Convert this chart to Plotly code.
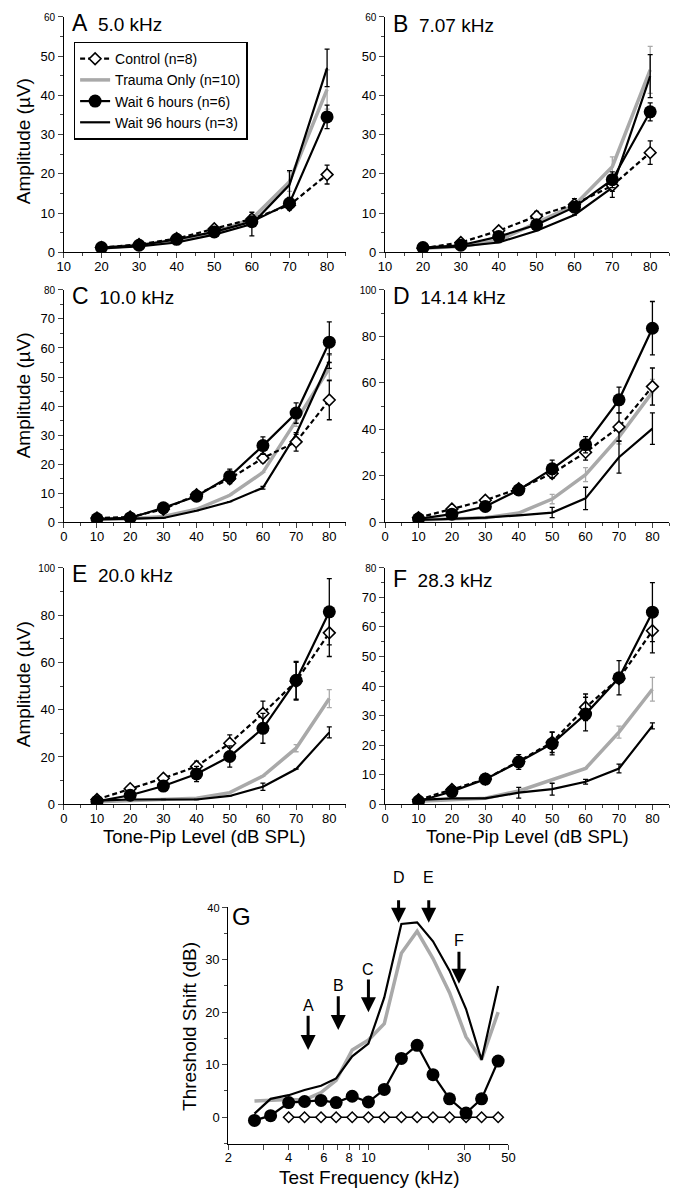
import math
import plotly.graph_objects as go

W, H = 682, 1199
FONT = "Liberation Sans, Arial, Helvetica, sans-serif"
GRAY = "#a9a9a9"

# ---------------- data ----------------
levels_ab = [20, 30, 40, 50, 60, 70, 80]
levels_cf = [10, 20, 30, 40, 50, 60, 70, 80]

# Panel A  5.0 kHz
a_control = [1.2, 2.0, 3.5, 6.0, 8.5, 12.0, 19.8]
a_control_err = [None, None, None, 0.8, 1.0, 1.2, 2.4]
a_trauma = [1.0, 1.8, 2.8, 5.0, 8.5, 18.0, 41.5]
a_trauma_err = [None, None, None, None, 1.0, 2.5, 5.0]
a_wait6 = [1.2, 1.8, 3.3, 5.2, 7.8, 12.5, 34.5]
a_wait6_err = [None, None, 0.6, 1.2, 1.0, 1.5, 3.0]
a_wait96 = [1.0, 1.5, 2.5, 4.5, 7.2, 17.2, 47.0]
a_wait96_err = [None, None, None, None, 3.0, 3.6, 4.8]

# Panel B  7.07 kHz
b_control = [1.0, 2.5, 5.5, 9.2, 12.2, 17.0, 25.4]
b_control_err = [None, None, 0.6, 1.2, 1.5, 1.5, 3.0]
b_trauma = [1.0, 1.5, 3.0, 7.5, 12.0, 21.8, 46.5]
b_trauma_err = [None, None, None, None, 1.0, 2.5, 6.0]
b_wait6 = [1.2, 1.8, 4.0, 7.0, 11.5, 18.5, 35.8]
b_wait6_err = [None, None, None, 1.0, 1.2, 2.0, 2.3]
b_wait96 = [1.0, 1.5, 2.5, 5.5, 9.5, 16.5, 44.9]
b_wait96_err = [None, None, None, None, None, 2.5, 5.5]

# Panel C  10.0 kHz
c_control = [1.5, 1.8, 4.5, 9.5, 15.0, 22.1, 27.7, 42.1]
c_control_err = [None, None, None, None, None, 1.5, 3.2, 6.8]
c_trauma = [1.0, 1.2, 2.0, 4.5, 9.3, 17.2, 35.0, 53.0]
c_trauma_err = [None, None, None, None, None, None, 2.0, 4.5]
c_wait6 = [1.2, 1.5, 5.0, 9.0, 15.8, 26.4, 37.6, 62.0]
c_wait6_err = [None, None, None, 1.5, 2.5, 3.0, 3.5, 7.0]
c_wait96 = [1.0, 1.2, 1.5, 4.0, 7.1, 11.9, 30.3, 55.5]
c_wait96_err = [None, None, None, None, None, 0.5, None, 2.5]

# Panel D  14.14 kHz
d_control = [2.0, 5.7, 9.5, 14.5, 21.0, 30.1, 41.0, 58.4]
d_control_err = [None, None, None, 1.5, 2.0, 3.3, 6.0, 8.0]
d_trauma = [1.0, 1.5, 2.0, 4.0, 10.0, 20.5, 36.7, 56.0]
d_trauma_err = [None, None, None, None, 2.0, 3.0, 3.0, 5.5]
d_wait6 = [1.5, 3.5, 6.8, 13.9, 23.0, 33.4, 52.7, 83.5]
d_wait6_err = [None, None, None, 2.0, 3.8, 3.5, 5.5, 11.5]
d_wait96 = [1.0, 1.5, 2.0, 3.0, 4.2, 10.3, 28.0, 40.3]
d_wait96_err = [None, None, None, None, 2.2, 4.8, 6.8, 6.8]

# Panel E  20.0 kHz
e_control = [2.0, 6.6, 11.0, 16.0, 25.8, 38.4, 52.0, 72.5]
e_control_err = [None, None, 1.0, 2.2, 3.5, 5.2, 8.0, 10.0]
e_trauma = [1.0, 1.5, 2.0, 2.5, 4.9, 11.9, 23.7, 44.7]
e_trauma_err = [None, None, None, None, None, None, 1.5, 3.8]
e_wait6 = [1.2, 3.8, 7.7, 12.8, 20.2, 32.1, 52.4, 81.4]
e_wait6_err = [None, 1.0, None, 3.2, 4.5, 6.3, 8.0, 14.0]
e_wait96 = [1.5, 2.0, 2.0, 2.0, 3.5, 7.4, 14.9, 30.4]
e_wait96_err = [None, None, None, None, None, 1.5, None, 2.3]

# Panel F  28.3 kHz
f_control = [1.5, 5.0, 8.5, 14.5, 21.0, 32.8, 42.5, 58.7]
f_control_err = [None, None, None, None, 3.5, 4.5, None, 7.5]
f_trauma = [1.0, 1.5, 2.0, 4.5, 8.2, 12.1, 24.4, 38.9]
f_trauma_err = [None, None, None, None, None, None, 2.0, 4.0]
f_wait6 = [1.0, 4.3, 8.5, 14.3, 20.5, 30.5, 42.8, 65.0]
f_wait6_err = [None, None, None, 2.5, 3.8, 5.7, 5.8, 10.0]
f_wait96 = [1.5, 2.0, 2.0, 3.9, 5.1, 7.6, 12.1, 26.5]
f_wait96_err = [None, None, None, 1.8, 2.0, 0.8, 1.5, 1.0]

# Panel G  threshold shift vs frequency
g_freq = [2.7, 3.25, 4.0, 4.8, 5.8, 6.9, 8.3, 10.0, 12.0, 14.6, 17.5, 21.0, 25.4, 30.7, 36.7, 44.4]
g_control_freq = [4.0, 4.8, 5.8, 6.9, 8.3, 10.0, 12.0, 14.6, 17.5, 21.0, 25.4, 30.7, 36.7, 44.4]
g_control = [0, 0, 0, 0, 0, 0, 0, 0, 0, 0, 0, 0, 0, 0]
g_trauma = [3.1, 3.3, 3.4, 3.3, 4.7, 7.0, 12.8, 14.7, 17.8, 31.2, 35.4, 30.2, 23.7, 15.3, 11.0, 20.0]
g_wait6 = [-0.6, 0.3, 2.8, 3.0, 3.2, 2.8, 4.0, 2.9, 5.3, 11.2, 13.7, 8.1, 3.5, 0.8, 3.5, 10.7]
g_wait96 = [0.7, 3.5, 4.2, 5.2, 6.0, 7.4, 11.6, 14.0, 22.8, 36.8, 37.1, 33.5, 27.9, 20.6, 10.9, 25.0]

arrow_labels = ["A", "B", "C", "D", "E", "F"]
arrow_freq = [5.0, 7.07, 10.0, 14.14, 20.0, 28.3]
arrow_tip = [12.8, 16.6, 20.0, 37.0, 37.0, 25.4]
arrow_tail = [19.6, 23.3, 26.5, 41.6, 41.6, 31.8]
arrow_label_y = [21.2, 25.0, 28.2, 45.6, 45.6, 33.7]

panel_titles = ["A", "B", "C", "D", "E", "F"]
panel_freqs = ["5.0 kHz", "7.07 kHz", "10.0 kHz", "14.14 kHz", "20.0 kHz", "28.3 kHz"]
panel_ymax = [60, 60, 80, 100, 100, 80]

# ---------------- layout geometry (pixels) ----------------
col_x = [(58, 346), (386, 676)]
row_y = [(12, 250), (288, 523), (569, 808)]


def px_x(p):
    return p / W


def px_y(p):
    return 1 - p / H


fig = go.Figure()

panels = [
    (levels_ab, a_control, a_control_err, a_trauma, a_trauma_err, a_wait6, a_wait6_err, a_wait96, a_wait96_err),
    (levels_ab, b_control, b_control_err, b_trauma, b_trauma_err, b_wait6, b_wait6_err, b_wait96, b_wait96_err),
    (levels_cf, c_control, c_control_err, c_trauma, c_trauma_err, c_wait6, c_wait6_err, c_wait96, c_wait96_err),
    (levels_cf, d_control, d_control_err, d_trauma, d_trauma_err, d_wait6, d_wait6_err, d_wait96, d_wait96_err),
    (levels_cf, e_control, e_control_err, e_trauma, e_trauma_err, e_wait6, e_wait6_err, e_wait96, e_wait96_err),
    (levels_cf, f_control, f_control_err, f_trauma, f_trauma_err, f_wait6, f_wait6_err, f_wait96, f_wait96_err),
]


def err(arr, color):
    return dict(type="data", array=arr, arrayminus=arr, visible=True,
                color=color, thickness=1.3, width=2.5)


layout_axes = {}
annotations = []

for i, (lv, ctl, ctle, tr, tre, w6, w6e, w96, w96e) in enumerate(panels):
    k = i + 1
    xa = "x" if k == 1 else f"x{k}"
    ya = "y" if k == 1 else f"y{k}"
    leg = (k == 1)
    fig.add_trace(go.Scatter(x=lv, y=tr, xaxis=xa, yaxis=ya, mode="lines",
                             name="Trauma Only (n=10)", legendrank=2, showlegend=leg,
                             line=dict(color=GRAY, width=3.5), error_y=err(tre, GRAY)))
    fig.add_trace(go.Scatter(x=lv, y=w96, xaxis=xa, yaxis=ya, mode="lines",
                             name="Wait 96 hours (n=3)", legendrank=4, showlegend=leg,
                             line=dict(color="black", width=2.2), error_y=err(w96e, "black")))
    fig.add_trace(go.Scatter(x=lv, y=ctl, xaxis=xa, yaxis=ya, mode="lines+markers",
                             name="Control (n=8)", legendrank=1, showlegend=leg,
                             line=dict(color="black", width=2.2, dash="5px,3px"),
                             marker=dict(symbol="diamond", size=9, color="white",
                                         line=dict(color="black", width=1.6)),
                             error_y=err(ctle, "black")))
    fig.add_trace(go.Scatter(x=lv, y=w6, xaxis=xa, yaxis=ya, mode="lines+markers",
                             name="Wait 6 hours (n=6)", legendrank=3, showlegend=leg,
                             line=dict(color="black", width=2.2),
                             marker=dict(symbol="circle", size=13, color="black"),
                             error_y=err(w6e, "black")))

    col = i % 2
    row = i // 2
    x0, x1 = col_x[col]
    y0, y1 = row_y[row]
    ymax = panel_ymax[i]
    step = 20 if ymax == 100 else 10
    yt = list(range(0, ymax + 1, step))
    ytext = [str(v) for v in yt]
    ytext[-1] = f"<span style='font-size:10px'>{yt[-1]}</span>"
    xmin = 10 if lv[0] == 20 else 0
    xname = "xaxis" if k == 1 else f"xaxis{k}"
    yname = "yaxis" if k == 1 else f"yaxis{k}"
    layout_axes[xname] = dict(
        domain=[px_x(x0), px_x(x1)], anchor=ya, range=[xmin, 85],
        tickmode="linear", tick0=0, dtick=10, ticks="outside", ticklen=5, tickwidth=1.2,
        ticklabelstandoff=-3,
        minor=dict(dtick=5, tick0=0, ticks="outside", ticklen=3, tickwidth=1),
        showline=True, linecolor="black", linewidth=1.3, showgrid=False, zeroline=False,
        tickfont=dict(family=FONT, size=13, color="black"), fixedrange=True)
    layout_axes[yname] = dict(
        domain=[px_y(y1), px_y(y0)], anchor=xa, range=[0, ymax],
        tickmode="array", tickvals=yt, ticktext=ytext, ticks="outside", ticklen=5, tickwidth=1.2,
        minor=dict(dtick=(10 if ymax == 100 else 5), tick0=0, ticks="outside", ticklen=3, tickwidth=1),
        showline=True, linecolor="black", linewidth=1.3, showgrid=False, zeroline=False,
        tickfont=dict(family=FONT, size=13, color="black"), fixedrange=True)

    # panel title
    title_y = ({0: 18, 1: 294, 2: 575} if col == 0 else {0: 19, 1: 294, 2: 580})[row]
    annotations.append(dict(
        xref="paper", yref="paper", x=px_x(x0 + 6), y=px_y(title_y),
        xanchor="left", yanchor="middle", showarrow=False,
        text=f"<span style='font-size:23px'>{panel_titles[i]}</span>  {panel_freqs[i]}",
        font=dict(family=FONT, size=19, color="black")))

# ---------------- Panel G ----------------
fig.add_trace(go.Scatter(x=g_freq, y=g_trauma, xaxis="x7", yaxis="y7", mode="lines",
                         showlegend=False, line=dict(color=GRAY, width=3.5)))
fig.add_trace(go.Scatter(x=g_freq, y=g_wait96, xaxis="x7", yaxis="y7", mode="lines",
                         showlegend=False, line=dict(color="black", width=2.2)))
fig.add_trace(go.Scatter(x=g_control_freq, y=g_control, xaxis="x7", yaxis="y7",
                         mode="lines+markers", showlegend=False,
                         line=dict(color="black", width=1.5),
                         marker=dict(symbol="diamond", size=8, color="white",
                                     line=dict(color="black", width=1.5))))
fig.add_trace(go.Scatter(x=g_freq, y=g_wait6, xaxis="x7", yaxis="y7", mode="lines+markers",
                         showlegend=False, line=dict(color="black", width=2.2),
                         marker=dict(symbol="circle", size=13, color="black")))

layout_axes["xaxis7"] = dict(
    domain=[px_x(226), px_x(512)], anchor="y7", type="log",
    range=[math.log10(2), math.log10(50)],
    tickmode="array", tickvals=[2, 4, 6, 8, 10, 30, 50],
    ticktext=["2", "4", "6", "8", "10", "30", "50"],
    ticks="outside", ticklen=5, tickwidth=1.2, ticklabelstandoff=-3,
    minor=dict(tickmode="array", tickvals=[3, 5, 7, 9, 20, 40], ticks="outside",
               ticklen=5, tickwidth=1.2),
    showline=True, linecolor="black", linewidth=1.3, showgrid=False, zeroline=False,
    tickfont=dict(family=FONT, size=13, color="black"), fixedrange=True)
layout_axes["yaxis7"] = dict(
    domain=[px_y(1151), px_y(912)], anchor="x7", range=[-5, 40],
    tickmode="array", tickvals=[0, 10, 20, 30, 40],
    ticktext=["0", "10", "20", "30", "<span style='font-size:11px'>40</span>"],
    ticks="outside", ticklen=5, tickwidth=1.2,
    minor=dict(dtick=5, tick0=0, ticks="outside", ticklen=3, tickwidth=1),
    showline=True, linecolor="black", linewidth=1.3, showgrid=False, zeroline=False,
    tickfont=dict(family=FONT, size=13, color="black"), fixedrange=True)

G_TOP = 40
for lab, f, tip, tail, ly in zip(arrow_labels, arrow_freq, arrow_tip, arrow_tail, arrow_label_y):
    annotations.append(dict(
        xref="x7", yref="y7", x=math.log10(f), y=tip, text="", showarrow=True,
        axref="pixel", ayref="y7", ax=0, ay=tail,
        arrowhead=2, arrowsize=1.0, arrowwidth=3, arrowcolor="black", standoff=0))
    if ly <= G_TOP:
        annotations.append(dict(
            xref="x7", yref="y7", x=math.log10(f), y=ly, text=lab, showarrow=False,
            xanchor="center", yanchor="middle",
            font=dict(family=FONT, size=16, color="black")))
    else:
        # label above the axis range: place on the top edge and shift up in pixels
        annotations.append(dict(
            xref="x7", yref="y7", x=math.log10(f), y=G_TOP, text=lab, showarrow=False,
            xanchor="center", yanchor="middle", yshift=(ly - G_TOP) * 5.3,
            font=dict(family=FONT, size=16, color="black")))

annotations.append(dict(
    xref="paper", yref="paper", x=px_x(228), y=px_y(921), xanchor="left", yanchor="middle",
    text="G", showarrow=False, font=dict(family=FONT, size=24, color="black")))

# ---------------- axis titles ----------------
for yc in (138, 395, 687):
    annotations.append(dict(
        xref="paper", yref="paper", x=px_x(17), y=px_y(yc), textangle=-90,
        xanchor="center", yanchor="middle", text="Amplitude (µV)", showarrow=False,
        font=dict(family=FONT, size=19, color="black")))
for xc in (202, 531):
    annotations.append(dict(
        xref="paper", yref="paper", x=px_x(xc), y=px_y(841),
        xanchor="center", yanchor="middle", text="Tone-Pip Level (dB SPL)", showarrow=False,
        font=dict(family=FONT, size=18.5, color="black")))
annotations.append(dict(
    xref="paper", yref="paper", x=px_x(187), y=px_y(1033), textangle=-90,
    xanchor="center", yanchor="middle", text="Threshold Shift (dB)", showarrow=False,
    font=dict(family=FONT, size=19, color="black")))
annotations.append(dict(
    xref="paper", yref="paper", x=px_x(370), y=px_y(1185),
    xanchor="center", yanchor="middle", text="Test Frequency (kHz)", showarrow=False,
    font=dict(family=FONT, size=19, color="black")))

fig.update_layout(
    width=W, height=H, margin=dict(l=0, r=0, t=0, b=0),
    paper_bgcolor="white", plot_bgcolor="white",
    font=dict(family=FONT, color="black"),
    showlegend=True,
    legend=dict(x=px_x(68), y=px_y(37), xanchor="left", yanchor="top",
                bordercolor="black", borderwidth=1.5, bgcolor="white",
                font=dict(family=FONT, size=14, color="black"),
                tracegroupgap=0, itemwidth=30),
    annotations=annotations,
    **layout_axes,
)

fig.write_html("out.html", config={"displayModeBar": False},
               post_script=["document.body.style.margin='0';"])
